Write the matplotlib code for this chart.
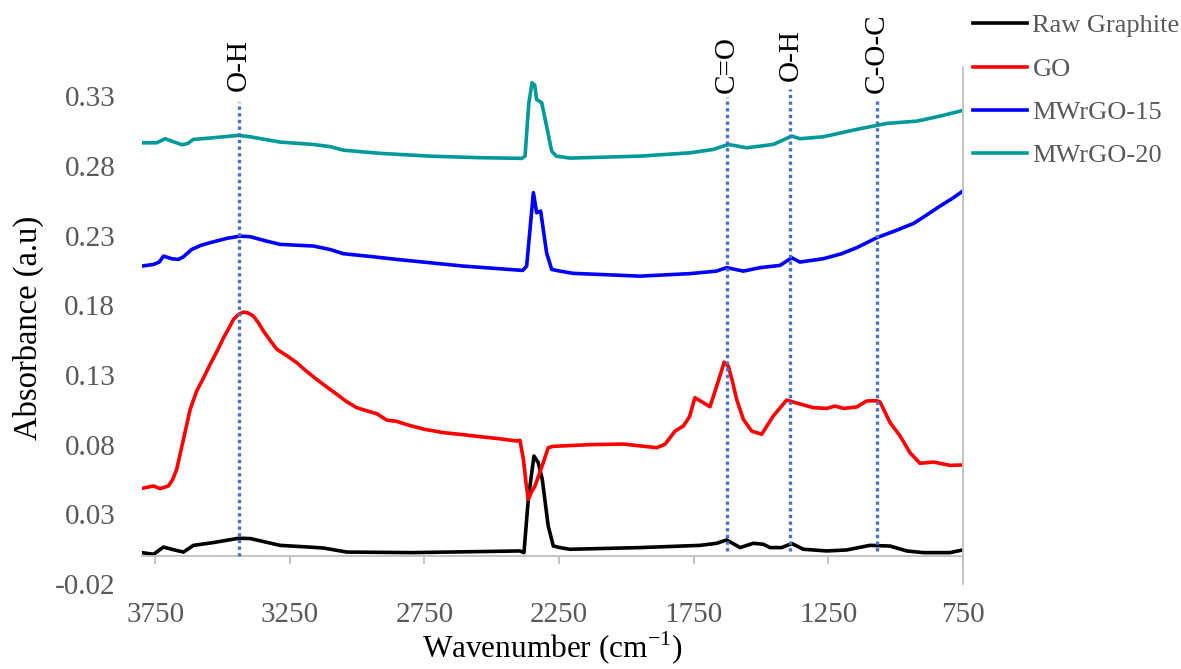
import numpy as np
import matplotlib
matplotlib.use("Agg")
import matplotlib.pyplot as plt

plt.rcParams['font.family'] = ['Liberation Serif', 'DejaVu Serif']
plt.rcParams['mathtext.fontset'] = 'custom'
plt.rcParams['mathtext.rm'] = 'Liberation Serif'

# ---- data ----
raw_w = [3800, 3756, 3719, 3689, 3645, 3608, 3534, 3440, 3397, 3286, 3180, 3125,
         3038, 2791, 2395, 2380, 2364, 2343, 2327, 2312, 2290, 2271, 2246, 2209,
         1949, 1726, 1664, 1627, 1577, 1528, 1491, 1466, 1423, 1385, 1342, 1255,
         1181, 1095, 1020, 958, 896, 797, 750]
raw_a = [0.0025, 0.0013, 0.0065, 0.0049, 0.0029, 0.0077, 0.0097, 0.0128, 0.0126,
         0.0077, 0.0065, 0.0058, 0.0029, 0.0025, 0.0037, 0.0025, 0.0407, 0.0718,
         0.0671, 0.0551, 0.0216, 0.0072, 0.0061, 0.0049, 0.0061, 0.0077, 0.0092,
         0.0116, 0.0061, 0.0092, 0.0085, 0.0061, 0.0061, 0.0090, 0.0049, 0.0037,
         0.0044, 0.0077, 0.0072, 0.0037, 0.0025, 0.0025, 0.0044]

go_w = [3800, 3756, 3732, 3701, 3685, 3670, 3645, 3620, 3596, 3570, 3546, 3520,
        3496, 3475, 3459, 3440, 3422, 3405, 3385, 3365, 3348, 3320, 3298, 3260,
        3224, 3190, 3150, 3110, 3075, 3040, 3001, 2960, 2927, 2905, 2890, 2853,
        2815, 2750, 2679, 2600, 2543, 2470, 2407, 2395, 2382, 2372, 2364, 2352,
        2339, 2325, 2310, 2290, 2270, 2246, 2130, 2011, 1887, 1856, 1819, 1788,
        1765, 1745, 1730, 1714, 1689, 1664, 1636, 1621, 1605, 1590, 1565, 1534,
        1497, 1454, 1404, 1379, 1305, 1255, 1225, 1193, 1144, 1107, 1070, 1057,
        1020, 983, 946, 909, 859, 797, 750]
go_a = [0.0486, 0.0503, 0.0484, 0.0503, 0.0550, 0.0623, 0.0838, 0.1053, 0.1184,
        0.1280, 0.1376, 0.1470, 0.1567, 0.1640, 0.1699, 0.1735, 0.1751, 0.1745,
        0.1722, 0.1670, 0.1615, 0.1540, 0.1484, 0.1437, 0.1388, 0.1330, 0.1268,
        0.1210, 0.1161, 0.1110, 0.1065, 0.1040, 0.1022, 0.0995, 0.0976, 0.0967,
        0.0943, 0.0910, 0.0886, 0.0870, 0.0857, 0.0842, 0.0826, 0.0831, 0.0694,
        0.0520, 0.0407, 0.0460, 0.0503, 0.0580, 0.0660, 0.0778, 0.0788, 0.0790,
        0.0800, 0.0804, 0.0778, 0.0802, 0.0897, 0.0933, 0.1000, 0.1137, 0.1120,
        0.1101, 0.1072, 0.1220, 0.1392, 0.1364, 0.1250, 0.1125, 0.0981, 0.0897,
        0.0874, 0.1005, 0.1120, 0.1105, 0.1065, 0.1060, 0.1077, 0.1060, 0.1070,
        0.1113, 0.1115, 0.1105, 0.0958, 0.0862, 0.0742, 0.0666, 0.0675, 0.0651,
        0.0654]

mw15_w = [3800, 3756, 3735, 3719, 3689, 3664, 3645, 3614, 3580, 3546, 3484, 3435,
          3397, 3340, 3286, 3162, 3100, 3051, 2950, 2852, 2605, 2385, 2370, 2355,
          2345, 2333, 2318, 2296, 2277, 2246, 2197, 1949, 1763, 1665, 1627, 1565,
          1503, 1429, 1385, 1355, 1268, 1200, 1144, 1069, 1000, 933, 890, 835,
          790, 750]
mw15_a = [0.2081, 0.2093, 0.2110, 0.2153, 0.2134, 0.2129, 0.2148, 0.2201, 0.2230,
          0.2249, 0.2280, 0.2296, 0.2292, 0.2262, 0.2237, 0.2225, 0.2200, 0.2170,
          0.2150, 0.2129, 0.2081, 0.2050, 0.2081, 0.2400, 0.2608, 0.2464, 0.2476,
          0.2177, 0.2057, 0.2045, 0.2029, 0.2009, 0.2027, 0.2045, 0.2070, 0.2045,
          0.2070, 0.2086, 0.2141, 0.2110, 0.2134, 0.2170, 0.2213, 0.2285, 0.2335,
          0.2387, 0.2440, 0.2511, 0.2565, 0.2619]

mw20_w = [3800, 3744, 3713, 3689, 3651, 3630, 3608, 3546, 3441, 3397, 3286, 3162,
          3100, 3051, 2914, 2729, 2543, 2388, 2376, 2362, 2350, 2340, 2333, 2314,
          2296, 2277, 2260, 2209, 1949, 1763, 1677, 1621, 1553, 1454, 1385, 1355,
          1268, 1144, 1032, 921, 835, 750]
mw20_a = [0.2966, 0.2966, 0.2995, 0.2978, 0.2952, 0.2960, 0.2990, 0.3000, 0.3019,
          0.3009, 0.2971, 0.2954, 0.2938, 0.2913, 0.2890, 0.2870, 0.2859, 0.2854,
          0.2870, 0.3250, 0.3397, 0.3380, 0.3277, 0.3253, 0.3085, 0.2906, 0.2870,
          0.2856, 0.2870, 0.2894, 0.2918, 0.2954, 0.2930, 0.2954, 0.3014, 0.2995,
          0.3009, 0.3062, 0.3105, 0.3121, 0.3157, 0.3198]

series_names = ["Raw Graphite", "GO", "MWrGO-15", "MWrGO-20"]
series_colors = ["black", "#FF0000", "#0000FF", "#009999"]

# marked bands: position, label, dotted-line span, label base
band_pos = [3440, 1625, 1390, 1070]
band_labels = ["O-H", "C=O", "O-H", "C-O-C"]
band_low = [0.0, 0.004, 0.004, 0.004]
band_high = [0.3256, 0.3291, 0.3355, 0.3277]
band_text_y = [0.3336, 0.3325, 0.3408, 0.3325]

x_ticks = [3750, 3250, 2750, 2250, 1750, 1250, 750]
y_ticks = [-0.02, 0.03, 0.08, 0.13, 0.18, 0.23, 0.28, 0.33]

fig = plt.figure(figsize=(11.81, 6.69), dpi=100)
ax = fig.add_axes([0.12, 0.1271, 0.6952, 0.7728])

for w, a, name, col in zip([raw_w, go_w, mw15_w, mw20_w],
                           [raw_a, go_a, mw15_a, mw20_a],
                           series_names, series_colors):
    ax.plot(w, a, color=col, lw=2.6, label=name, solid_joinstyle='round')

for pos, lab, lo, hi, ty in zip(band_pos, band_labels, band_low, band_high, band_text_y):
    ax.plot([pos, pos], [lo, hi], color="#4472C4", lw=2.4,
            linestyle=(0, (1, 1)), dash_capstyle='butt', zorder=5)
    ax.text(pos, ty, lab, rotation=90, ha='center', va='bottom',
            fontsize=21, color='black', clip_on=False)

ax.set_xlim(3800, 750)
ax.set_ylim(-0.02, 0.351)
ax.set_xticks(x_ticks)
ax.set_yticks(y_ticks)
ax.set_yticklabels([f"{v:.2f}" for v in y_ticks])

axis_grey = "#BFBFBF"
for s in ["top", "left"]:
    ax.spines[s].set_visible(False)
ax.spines["right"].set_color(axis_grey)
ax.spines["right"].set_linewidth(1.3)
ax.spines["bottom"].set_position(("data", 0))
ax.spines["bottom"].set_color(axis_grey)
ax.spines["bottom"].set_linewidth(1.3)

ax.tick_params(axis='x', direction='out', length=6, width=1.3, color=axis_grey,
               pad=27, labelsize=21, labelcolor="#595959")
ax.tick_params(axis='y', length=0, pad=19, labelsize=21, labelcolor="#595959")

ax.set_xlabel(r"Wavenumber (cm$^{-1}$)", fontsize=22.5, color='black', va='center')
ax.xaxis.set_label_coords(0.5, -0.1238)
ax.set_ylabel("Absorbance (a.u)", fontsize=23.5, color='black', va='center')
ax.yaxis.set_label_coords(-0.1385, 0.495)

leg = ax.legend(loc='upper left', bbox_to_anchor=(973 / 1181, 1 - 14 / 669),
                bbox_transform=fig.transFigure, frameon=False, fontsize=19,
                handlelength=2.05, handletextpad=0.2, labelspacing=0.75,
                borderpad=0, borderaxespad=0)
for t in leg.get_texts():
    t.set_color("#595959")

fig.savefig("out.png", dpi=100)
